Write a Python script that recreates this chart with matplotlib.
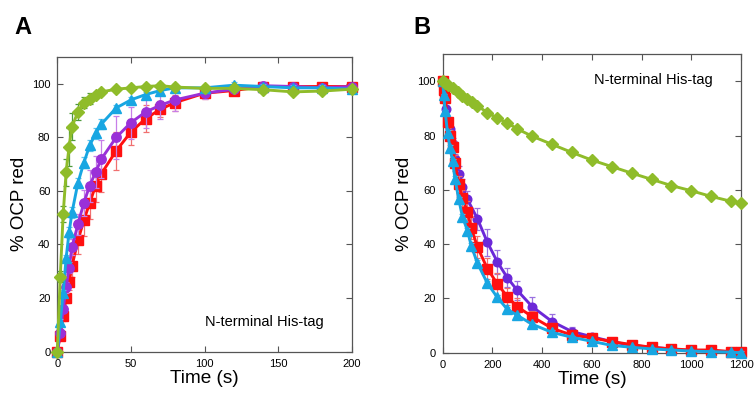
import matplotlib
matplotlib.use("Agg")
import matplotlib.pyplot as plt
import numpy as np

plt.rcParams['font.family'] = ['Liberation Sans', 'DejaVu Sans']

# ---------------- Panel A data ----------------
tA = [0, 2, 4, 6, 8, 10, 14, 18, 22, 26, 30, 40, 50, 60, 70, 80, 100, 120, 140, 160, 180, 200]
redA = [0, 6, 13.4, 20, 26, 32, 41.5, 49, 55.5, 62, 66.5, 75, 82, 87, 90.5, 93, 96.5, 97.5, 99, 99, 99, 99]
redA_err = [0, 1, 2, 2, 3, 4, 5, 6, 6, 6, 7, 7, 5, 5, 3, 3, 2, 1, 1, 1, 1, 1]
purA = [0, 7, 16, 24, 31.3, 39, 47.5, 55.5, 62, 67, 72, 80, 85.5, 89.5, 92, 94, 96.5, 98, 99.3, 99, 98.5, 99]
purA_err = [0, 1, 1, 2, 2, 3, 4, 5, 6, 6, 7, 8, 6, 6, 5, 4, 2, 1, 1, 1, 1, 1]
bluA = [0, 11, 22, 35, 44.5, 52, 63, 70.5, 77, 81.5, 85, 91, 94, 96, 97.5, 98.5, 98.5, 99.5, 99, 98.5, 98.5, 98]
bluA_err = [0, 1, 1, 1, 2, 2, 2, 2, 2, 2, 2, 1, 1, 1, 1, 1, 1, 1, 1, 1, 1, 1]
grnA = [0, 28, 51.5, 67, 76.5, 84, 89.5, 93, 94.5, 96, 97, 98, 98.5, 99, 99.3, 98.8, 98.3, 98.3, 97.8, 97, 97.3, 98]
grnA_err = [0, 2, 3, 5, 7, 5, 3, 2, 2, 1, 1, 1, 1, 1, 1, 1, 1, 0.5, 0.5, 0.5, 0.5, 0.5]

# ---------------- Panel B data ----------------
tB = [0, 5, 10, 20, 30, 40, 50, 65, 80, 100, 115, 140, 180, 220, 260, 300, 360, 440, 520, 600, 680, 760, 840, 920, 1000, 1080, 1160, 1200]
redB = [100, 97, 94, 85, 80, 76, 70, 62, 57, 52, 46, 39, 31, 25.4, 20.7, 17, 13.3, 9, 6.5, 5.5, 4.1, 3, 2, 1.4, 1, 1, 0.4, 0.2]
redB_err = [0, 1, 1, 2, 2, 2, 3, 3, 3, 4, 4, 4, 4, 4, 3, 3, 2, 2, 1, 1, 1, 1, 1, 0.5, 0.5, 0.5, 0.5, 0.5]
bluB = [100, 95, 89, 81, 75.5, 70.5, 64, 56.5, 50, 45, 39.5, 33, 25.6, 20.4, 16, 13.8, 10.5, 7.5, 5.7, 4.2, 2.7, 2, 1.4, 1, 0.6, 0.4, 0.2, 0]
bluB_err = [0, 0.5, 0.5, 1, 1, 1, 1, 1, 1, 1, 1, 1, 1, 1, 1, 1, 1, 1, 0.5, 0.5, 0.5, 0.5, 0.5, 0.5, 0.5, 0.5, 0.5, 0.5]
tBp = [0, 5, 15, 30, 40, 50, 65, 80, 100, 140, 180, 220, 260, 300, 360, 440, 520, 600, 680, 760, 840, 920, 1000, 1080, 1160, 1200]
purB = [100, 98, 90, 82.6, 77, 71.4, 66, 61, 56.5, 49.4, 40.7, 33.5, 27.7, 23, 17, 11.5, 7.8, 5.9, 4.1, 2.7, 2, 1.4, 0.7, 0.6, 0.4, 0.2]
purB_err = [0, 1, 1, 2, 2, 2, 3, 3, 3, 4, 5, 4.5, 3.5, 3.5, 3.5, 2.7, 1.7, 1, 1, 1, 0.5, 0.5, 0.5, 0.5, 0.5, 0.5]
tBg = [0, 10, 20, 40, 60, 80, 100, 120, 140, 180, 220, 260, 300, 360, 440, 520, 600, 680, 760, 840, 920, 1000, 1080, 1160, 1200]
grnB = [100, 99.3, 98.5, 97.5, 96, 94.5, 93.5, 92.5, 91, 88.5, 86.5, 84.7, 82.5, 79.8, 76.8, 73.8, 71, 68.6, 66.2, 63.9, 61.6, 59.7, 57.6, 55.8, 55]

RED = '#ff1010'
PUR_A = '#9a30d8'
PUR_B = '#6c28d8'
BLU = '#18a6e2'
GRN = '#8fbc2a'

fig = plt.figure(figsize=(7.54, 3.99), dpi=100)
axA = fig.add_axes([0.076, 0.1188, 0.3905, 0.7382])
axB = fig.add_axes([0.587, 0.116, 0.3958, 0.748])


def series(ax, x, y, err, color, ecolor, marker, ms, z):
    if err is not None:
        ax.errorbar(x, y, yerr=err, fmt='none', ecolor=ecolor, elinewidth=0.9,
                    capsize=2, capthick=0.9, zorder=z - 0.5, clip_on=False)
    ax.plot(x, y, color=color, lw=2.1, marker=marker, ms=ms, mfc=color, mec=color,
            zorder=z, clip_on=False)


series(axA, tA, redA, redA_err, RED, '#f07070', 's', 6.8, 3)
series(axA, tA, purA, purA_err, PUR_A, '#c77fe8', 'o', 6.8, 4)
series(axA, tA, bluA, bluA_err, BLU, '#5ec3ee', '^', 6.8, 5)
series(axA, tA, grnA, grnA_err, GRN, '#4f9a3c', 'D', 5.8, 6)

series(axB, tBp, purB, purB_err, PUR_B, '#9a70e0', 'o', 6.2, 3)
series(axB, tB, redB, redB_err, RED, '#f07070', 's', 6.8, 4)
series(axB, tB, bluB, bluB_err, BLU, '#5ec3ee', '^', 6.8, 5)
series(axB, tBg, grnB, None, GRN, GRN, 'D', 5.8, 6)

for ax, xmax, xt in [(axA, 200, [0, 50, 100, 150, 200]),
                     (axB, 1200, [0, 200, 400, 600, 800, 1000, 1200])]:
    ax.set_xlim(0, xmax)
    ax.set_ylim(0, 110)
    ax.set_xticks(xt)
    ax.set_yticks([0, 20, 40, 60, 80, 100])
    ax.tick_params(direction='in', length=4, width=0.8, color='#555555',
                   top=True, right=True, labelsize=8, pad=5)
    for s in ax.spines.values():
        s.set_color('#555555')
        s.set_linewidth(0.9)
    ax.set_xlabel('Time (s)', fontsize=13.7, labelpad=1)
    ax.set_ylabel('% OCP red', fontsize=13.5, labelpad=3)

axA.text(100, 9.5, 'N-terminal His-tag', fontsize=10.5)
axB.text(607, 99, 'N-terminal His-tag', fontsize=10.5)

fig.text(0.019, 0.96, 'A', fontsize=17, fontweight='bold', va='top')
fig.text(0.548, 0.96, 'B', fontsize=17, fontweight='bold', va='top')

fig.savefig('out.png', dpi=100)
